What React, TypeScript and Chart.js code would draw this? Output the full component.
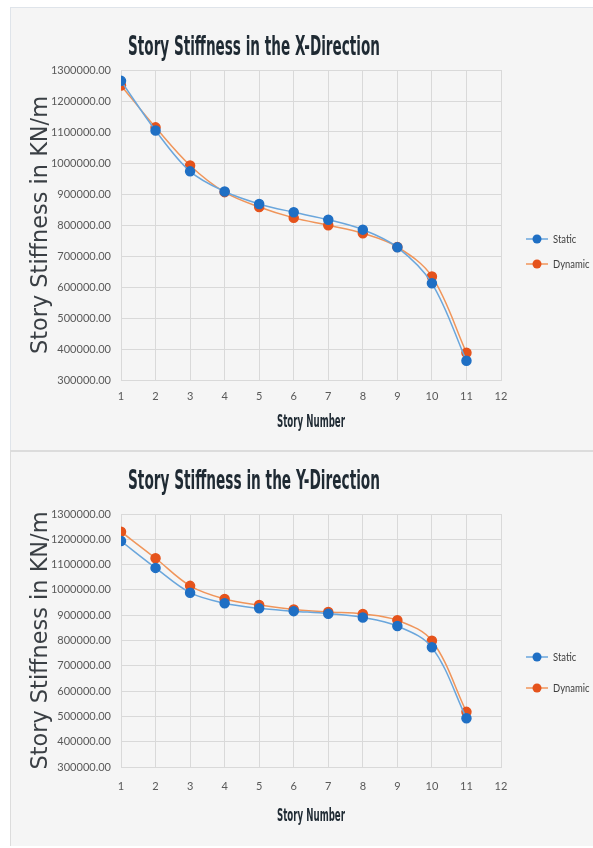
import React, { useEffect, useRef } from "react";
import { Chart, registerables } from "chart.js";

Chart.register(...registerables);

// ---- Data ----
const storyNumbers = [1, 2, 3, 4, 5, 6, 7, 8, 9, 10, 11];
const seriesNames = ["Static", "Dynamic"];

const xDirStatic = [1265000, 1105000, 973000, 908000, 868000, 841000, 817000, 785000, 728000, 612000, 362000];
const xDirDynamic = [1250000, 1115000, 992000, 906000, 858000, 823000, 799000, 773000, 729000, 634000, 388000];

const yDirStatic = [1193000, 1087000, 989000, 947000, 927000, 916000, 906000, 891000, 857000, 773000, 493000];
const yDirDynamic = [1230000, 1125000, 1016000, 964000, 940000, 923000, 913000, 905000, 880000, 799000, 518000];

const yMin = 300000;
const yMax = 1300000;
const yStep = 100000;
const xMin = 1;
const xMax = 12;

const titleX = "Story Stiffness in the X-Direction";
const titleY = "Story Stiffness in the Y-Direction";
const yAxisTitle = "Story Stiffness in KN/m";
const xAxisTitle = "Story Number";

// ---- Styles ----
const staticLine = "#6aa6dc";
const staticPoint = "#1f6fc4";
const dynamicLine = "#f0955a";
const dynamicPoint = "#e5531c";
const gridColor = "#d9d9d9";
const tickColor = "#595959";
const titleColor = "#1f2a33";

type Cfg = {
  width: number;
  height: number;
  top: number;
  bottom: number;
  title: string;
  titleBaseline: number;
  xTickPad: number;
  xTitleBaseline: number;
  legendY: [number, number];
  staticData: number[];
  dynamicData: number[];
};

function drawFitted(
  ctx: CanvasRenderingContext2D,
  text: string,
  x: number,
  y: number,
  targetW: number,
  font: string,
  color: string,
  rotate: boolean
) {
  ctx.save();
  ctx.font = font;
  const w = ctx.measureText(text).width;
  ctx.translate(x, y);
  if (rotate) ctx.rotate(-Math.PI / 2);
  ctx.scale(targetW / w, 1);
  ctx.textAlign = "center";
  ctx.textBaseline = "alphabetic";
  ctx.fillStyle = color;
  ctx.fillText(text, 0, 0);
  ctx.restore();
}

function makeTextPlugin(cfg: Cfg) {
  return {
    id: "excelTexts",
    afterDraw(chart: any) {
      const ctx: CanvasRenderingContext2D = chart.ctx;
      const a = chart.chartArea;
      const cy = (a.top + a.bottom) / 2;
      drawFitted(ctx, cfg.title, a.left + 133, a.top - cfg.titleBaseline, 252,
        "bold 26px 'DejaVu Sans'", titleColor, false);
      drawFitted(ctx, yAxisTitle, a.left - 74, cy, 258,
        "23px 'DejaVu Sans'", "#3a3f44", true);
      drawFitted(ctx, xAxisTitle, (a.left + a.right) / 2, a.bottom + cfg.xTitleBaseline, 68,
        "bold 17px 'DejaVu Sans'", titleColor, false);
      chart.data.datasets.forEach((ds: any, i: number) => {
        const ly = a.top + cfg.legendY[i];
        ctx.save();
        ctx.strokeStyle = ds.borderColor;
        ctx.lineWidth = 1.5;
        ctx.beginPath();
        ctx.moveTo(a.right + 25, ly);
        ctx.lineTo(a.right + 47, ly);
        ctx.stroke();
        ctx.fillStyle = ds.pointBackgroundColor;
        ctx.beginPath();
        ctx.arc(a.right + 36, ly, 4.5, 0, Math.PI * 2);
        ctx.fill();
        ctx.fillStyle = "#404040";
        ctx.font = "11.5px Lato";
        ctx.textAlign = "left";
        ctx.textBaseline = "middle";
        ctx.translate(a.right + 52, ly);
        ctx.scale(0.82, 1);
        ctx.fillText(ds.label, 0, 0);
        ctx.restore();
      });
    },
  };
}

function StiffnessChart({ cfg }: { cfg: Cfg }) {
  const ref = useRef<HTMLCanvasElement | null>(null);
  useEffect(() => {
    if (!ref.current) return;
    const mk = (vals: number[]) => storyNumbers.map((s, i) => ({ x: s, y: vals[i] }));
    const chart = new Chart(ref.current, {
      type: "line",
      data: {
        datasets: [
          {
            label: seriesNames[0],
            data: mk(cfg.staticData),
            borderColor: staticLine,
            borderWidth: 1.5,
            pointBackgroundColor: staticPoint,
            pointBorderColor: staticPoint,
            pointRadius: 4.5,
            tension: 0.35,
          },
          {
            label: seriesNames[1],
            data: mk(cfg.dynamicData),
            borderColor: dynamicLine,
            borderWidth: 1.5,
            pointBackgroundColor: dynamicPoint,
            pointBorderColor: dynamicPoint,
            pointRadius: 4.5,
            tension: 0.35,
          },
        ],
      },
      options: {
        responsive: false,
        animation: false,
        devicePixelRatio: 1,
        layout: { padding: { left: 0, top: cfg.top, right: 583 - 491, bottom: 0 } },
        plugins: {
          legend: { display: false },
          title: { display: false },
          tooltip: { enabled: false },
        },
        scales: {
          x: {
            type: "linear",
            min: xMin,
            max: xMax,
            ticks: {
              stepSize: 1,
              color: tickColor,
              font: { family: "Lato", size: 11 },
              padding: cfg.xTickPad,
            },
            grid: { color: gridColor, drawTicks: false },
            border: { color: gridColor },
            afterFit: (s: any) => {
              s.height = cfg.height - cfg.bottom;
            },
          },
          y: {
            min: yMin,
            max: yMax,
            ticks: {
              stepSize: yStep,
              color: tickColor,
              font: { family: "Lato", size: 11 },
              padding: 10,
              callback: (v: any) => Number(v).toFixed(2),
            },
            grid: { color: gridColor, drawTicks: false },
            border: { color: gridColor },
            afterFit: (s: any) => {
              s.width = 111;
            },
          },
        },
      },
      plugins: [makeTextPlugin(cfg)],
    } as any);
    return () => chart.destroy();
  }, [cfg]);
  return <canvas ref={ref} width={cfg.width} height={cfg.height} style={{ display: "block" }} />;
}

const topCfg: Cfg = {
  width: 583,
  height: 443,
  top: 63,
  bottom: 373,
  title: titleX,
  titleBaseline: 15,
  xTickPad: 10,
  xTitleBaseline: 47,
  legendY: [169, 194],
  staticData: xDirStatic,
  dynamicData: xDirDynamic,
};

const bottomCfg: Cfg = {
  width: 583,
  height: 396,
  top: 64,
  bottom: 317,
  title: titleY,
  titleBaseline: 25,
  xTickPad: 13,
  xTitleBaseline: 54,
  legendY: [143, 174],
  staticData: yDirStatic,
  dynamicData: yDirDynamic,
};

export default function App() {
  return (
    <div style={{ position: "absolute", left: 0, top: 0, width: 593, height: 848, background: "#ffffff", overflow: "hidden" }}>
      <div
        style={{
          position: "absolute", left: 10, top: 7, width: 583, height: 443,
          background: "#f5f5f5", boxShadow: "inset 1px 1px 0 #dfe4ea",
        }}
      >
        <StiffnessChart cfg={topCfg} />
      </div>
      <div
        style={{
          position: "absolute", left: 10, top: 450, width: 583, height: 396,
          background: "#f5f5f5", boxShadow: "inset 1px 2px 0 #dcdcdc",
        }}
      >
        <StiffnessChart cfg={bottomCfg} />
      </div>
    </div>
  );
}
